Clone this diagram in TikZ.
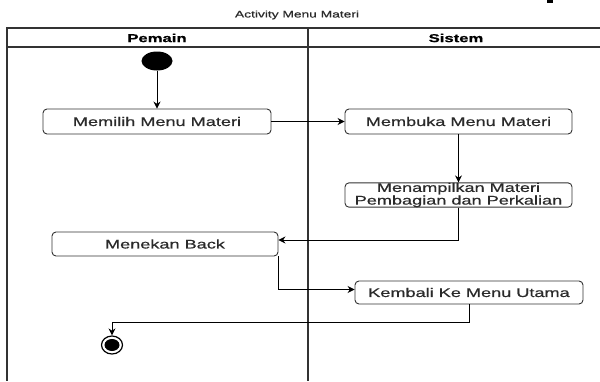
\documentclass[tikz,border=0pt]{standalone}
\usepackage{fontspec}
\setmainfont{Liberation Sans}
\newfontfamily\widefont[FakeStretch=1.45,FakeBold=0.6]{Liberation Sans}
\usetikzlibrary{arrows.meta,calc,shapes.geometric}
\definecolor{ln}{HTML}{333333}
\definecolor{tx}{HTML}{2A2A2A}
\begin{document}
\begin{tikzpicture}[x=1pt,y=-1pt,
  lane/.style={draw=ln,line width=1.1pt},
  actbox/.style={draw=ln,line width=0.9pt,rounded corners=4pt,fill=white,inner sep=0pt,
    text=tx,font=\widefont\fontsize{12.5}{11}\selectfont,align=center},
  hdr/.style={text=black,font=\widefont\fontsize{11.5}{12}\selectfont\bfseries},
  flow/.style={draw=black,line width=0.9pt,-{Stealth[length=7pt,width=7pt]}}]
\useasboundingbox (0,0) rectangle (600,381);
\fill[white] (0,0) rectangle (600,381);
% small cropped mark at top right
\fill[black] (547,0) rectangle (553,2.5);
% title
\node[text=tx,font=\widefont\fontsize{9.5}{10}\selectfont] (title) at (297,15) {Activity Menu Materi};
% swimlanes
\draw[lane] (600,28) -- (7,28) -- (7,381);
\draw[lane] (7,47) -- (600,47);
\draw[lane] (308,28) -- (308,381);
\node[hdr] (pemain) at (157,38) {Pemain};
\node[hdr] (sistem) at (456,38) {Sistem};
% start
\node[draw=none,fill=black,ellipse,minimum width=31pt,minimum height=19pt,inner sep=0pt] (start) at (157,61) {};
% activities
\node[actbox,minimum width=228pt,minimum height=25pt] (memilih) at (157,121.5) {Memilih Menu Materi};
\node[actbox,minimum width=227pt,minimum height=25pt] (membuka) at (458.5,121.5) {Membuka Menu Materi};
\node[actbox,minimum width=227pt,minimum height=24pt] (menampilkan) at (458.5,195) {Menampilkan Materi\\Pembagian dan Perkalian};
\node[actbox,minimum width=226pt,minimum height=24pt] (menekan) at (165,244) {Menekan Back};
\node[actbox,minimum width=228pt,minimum height=23pt] (kembali) at (469,292.5) {Kembali Ke Menu Utama};
% end
\node[draw=black,line width=1.2pt,ellipse,minimum width=21pt,minimum height=18pt,inner sep=0pt] (end) at (112,345) {};
\node[fill=black,ellipse,minimum width=15pt,minimum height=12pt,inner sep=0pt] (endin) at (end.center) {};
% connectors
\draw[flow] (start) -- (memilih.north);
\draw[flow] (memilih.east) -- (membuka.west);
\draw[flow] (membuka.south) -- (menampilkan.north);
\draw[flow] (menampilkan.south) |- ($(menekan.east)+(0,-4)$);
\draw[flow] (menekan.south east) |- ($(kembali.west)+(0,-3)$);
\draw[flow] (kembali.south) -- ++(0,18) -| (end.north);
\end{tikzpicture}
\end{document}
